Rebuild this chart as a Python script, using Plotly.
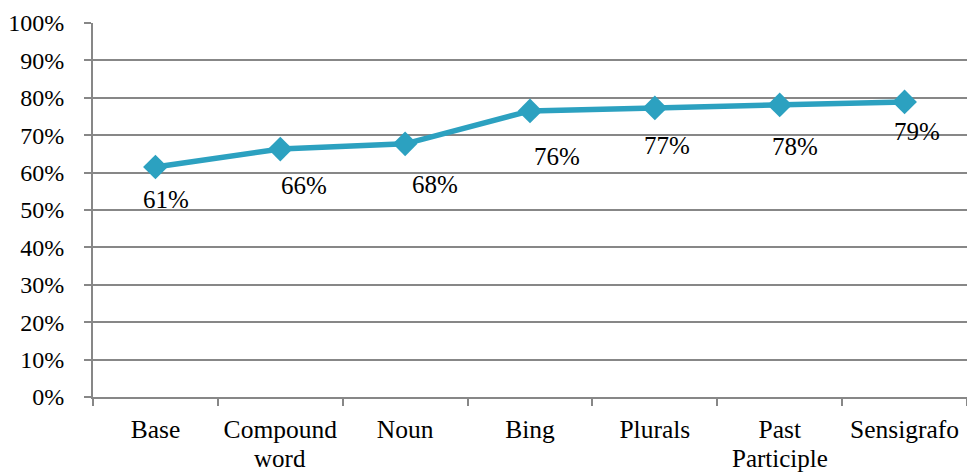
import plotly.graph_objects as go

categories = ["Base", "Compound<br>word", "Noun", "Bing", "Plurals", "Past<br>Participle", "Sensigrafo"]
values = [0.615, 0.663, 0.677, 0.765, 0.773, 0.781, 0.789]
labels = ["61%", "66%", "68%", "76%", "77%", "78%", "79%"]
y_ticks = [i / 10 for i in range(11)]
y_ticktext = [f"{i*10}%" for i in range(11)]

# label offsets in pixels (style only)
label_dx = [11, 24, 30, 27, 12, 15, 12]
label_dy = [33, 36, 41, 46, 38, 42, 30]

color = "#2CA1C0"
grid = "#878787"
font = "Liberation Serif"

first_lines = [c.split("<br>")[0] for c in categories]

fig = go.Figure()
fig.add_trace(go.Scatter(
    x=categories, y=values, mode="lines+markers",
    line=dict(color=color, width=5.5),
    marker=dict(symbol="diamond", size=19, color=color),
    hoverinfo="skip", showlegend=False,
))

for c, v, t, dx, dy in zip(categories, values, labels, label_dx, label_dy):
    fig.add_annotation(x=c, y=v, text=t, showarrow=False, xshift=dx, yshift=-dy,
                       xanchor="center", yanchor="middle",
                       font=dict(family=font, size=25, color="#000000"))

# second lines of wrapped category labels (tighter line spacing, as in reference)
for c in categories:
    parts = c.split("<br>")
    if len(parts) > 1:
        fig.add_annotation(x=c, y=0, yref="paper", text=parts[1], showarrow=False,
                           xanchor="center", yanchor="middle", yshift=-61,
                           font=dict(family=font, size=25, color="#000000"))

fig.update_layout(
    width=967, height=472,
    margin=dict(l=93, r=0, t=23, b=75),
    paper_bgcolor="white", plot_bgcolor="white",
    font=dict(family=font, size=24, color="#000000"),
)
fig.update_xaxes(
    type="category", tickson="boundaries", ticks="outside", ticklen=7,
    tickcolor=grid, tickwidth=1.5, showgrid=False, showline=True,
    linecolor=grid, linewidth=2, range=[-0.5, 6.5],
    tickvals=categories, ticktext=first_lines, tickangle=0, automargin=False,
    tickfont=dict(family=font, size=25.5), ticklabelstandoff=8,
)
fig.update_yaxes(
    range=[0, 1], tickvals=y_ticks, ticktext=y_ticktext, automargin=False,
    ticks="outside", ticklen=7, tickcolor=grid, tickwidth=1.5,
    showgrid=True, gridcolor=grid, gridwidth=1.5,
    showline=True, linecolor=grid, linewidth=2, zeroline=False,
    tickfont=dict(family=font, size=24), ticklabelstandoff=15,
)

fig.write_html("out.html")
